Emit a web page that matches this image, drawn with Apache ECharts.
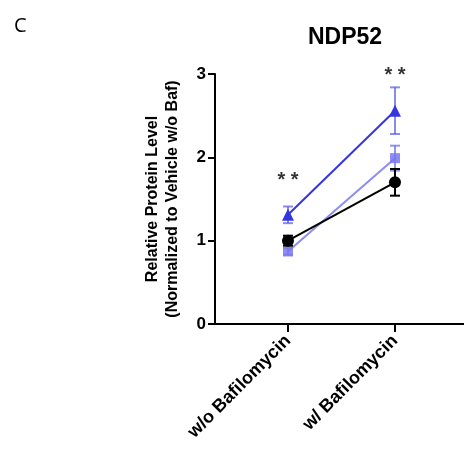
<!DOCTYPE html>
<html>
<head>
<meta charset="utf-8">
<script src="https://cdn.jsdelivr.net/npm/echarts@6/dist/echarts.min.js"></script>
<style>
  html, body { margin: 0; padding: 0; background: #fff; }
  #chart { width: 464px; height: 456px; }
</style>
</head>
<body>
<div id="chart"></div>
<script>
// Conditions on the x axis
const categories = ['w/o Bafilomycin', 'w/ Bafilomycin'];

// Mean relative protein levels per group
const triangleMeans = [1.31, 2.56];
const squareMeans = [0.87, 1.99];
const circleMeans = [1.00, 1.70];

// Error bar half-widths (SEM)
const triangleErr = [0.10, 0.28];
const squareErr = [0.04, 0.15];
const circleErr = [0.06, 0.16];

// Significance marks above each condition
const sigLabels = ['* *', '* *'];
const sigHeights = [1.78, 3.04];

const yTicks = [0, 1, 2, 3];

const FONT = '"Liberation Sans", Arial, sans-serif';

function pts(means) {
  return means.map((v, i) => [i, v]);
}

function errorSeries(means, errs, color, z) {
  return {
    type: 'custom',
    z: z,
    silent: true,
    data: means.map((v, i) => [i, v - errs[i], v + errs[i]]),
    renderItem: function (params, api) {
      const x = api.value(0);
      const lo = api.coord([x, api.value(1)]);
      const hi = api.coord([x, api.value(2)]);
      const half = 5;
      const style = { stroke: color, lineWidth: 2 };
      return {
        type: 'group',
        children: [
          { type: 'line', shape: { x1: lo[0], y1: lo[1], x2: hi[0], y2: hi[1] }, style },
          { type: 'line', shape: { x1: hi[0] - half, y1: hi[1], x2: hi[0] + half, y2: hi[1] }, style },
          { type: 'line', shape: { x1: lo[0] - half, y1: lo[1], x2: lo[0] + half, y2: lo[1] }, style }
        ]
      };
    }
  };
}

function lineSeries(means, color, symbol, size, z) {
  return {
    type: 'line',
    z: z,
    data: pts(means),
    symbol: symbol,
    symbolSize: size,
    showAllSymbol: true,
    lineStyle: { color: color, width: 2 },
    itemStyle: { color: color, borderWidth: 0 },
    emphasis: { disabled: true }
  };
}

const chart = echarts.init(document.getElementById('chart'), null, { renderer: 'canvas' });

chart.setOption({
  animation: false,
  backgroundColor: '#ffffff',
  title: [
    {
      text: 'NDP52',
      left: 340, top: 21, textAlign: 'center',
      textStyle: { fontFamily: FONT, fontSize: 23, fontWeight: 'bold', color: '#000' }
    },
    {
      text: 'C',
      left: 9, top: 11,
      textStyle: { fontFamily: '"Open Sans", sans-serif', fontSize: 20, fontWeight: 'normal', color: '#000' }
    }
  ],
  grid: { left: 215, right: 0, top: 74, bottom: 132, containLabel: false },
  xAxis: {
    type: 'value',
    min: -0.682,
    max: 1.645,
    splitLine: { show: false },
    axisLine: { show: true, lineStyle: { color: '#000', width: 2 } },
    axisTick: { show: true, customValues: [0, 1], length: 8, lineStyle: { color: '#000', width: 2 } },
    axisLabel: {
      show: true,
      customValues: [0, 1],
      rotate: 45,
      margin: 14,
      fontFamily: FONT, fontSize: 18, fontWeight: 'bold', color: '#000',
      formatter: function (v) { return categories[Math.round(v)] || ''; }
    }
  },
  yAxis: {
    type: 'value',
    min: 0, max: 3, interval: 1,
    name: 'Relative Protein Level\n(Normalized to Vehicle w/o Baf)',
    nameLocation: 'middle',
    nameGap: 32,
    nameTextStyle: { fontFamily: FONT, fontSize: 16, fontWeight: 'bold', color: '#000', lineHeight: 20 },
    splitLine: { show: false },
    axisLine: { show: true, onZero: false, lineStyle: { color: '#000', width: 2 } },
    axisTick: { show: true, length: 7, lineStyle: { color: '#000', width: 2 } },
    axisLabel: {
      margin: 9,
      fontFamily: FONT, fontSize: 17, fontWeight: 'bold', color: '#000',
      formatter: function (v) { return yTicks.includes(v) ? String(v) : ''; }
    }
  },
  series: [
    errorSeries(squareMeans, squareErr, 'rgba(110,110,235,0.75)', 2),
    lineSeries(squareMeans, 'rgba(120,120,240,0.85)', 'rect', 10, 3),
    errorSeries(circleMeans, circleErr, '#000000', 4),
    lineSeries(circleMeans, '#000000', 'circle', 12, 5),
    errorSeries(triangleMeans, triangleErr, 'rgba(90,90,230,0.7)', 6),
    lineSeries(triangleMeans, '#3535e0', 'triangle', 12, 7),
    {
      type: 'scatter',
      z: 8,
      silent: true,
      clip: false,
      symbolSize: 1,
      itemStyle: { color: 'rgba(0,0,0,0)' },
      data: sigHeights.map((h, i) => [i, h]),
      label: {
        show: true,
        position: 'inside',
        offset: [0, 5],
        formatter: function (p) { return sigLabels[p.dataIndex]; },
        fontFamily: FONT, fontSize: 20, fontWeight: 'bold', color: '#000'
      }
    }
  ]
});
</script>
</body>
</html>
